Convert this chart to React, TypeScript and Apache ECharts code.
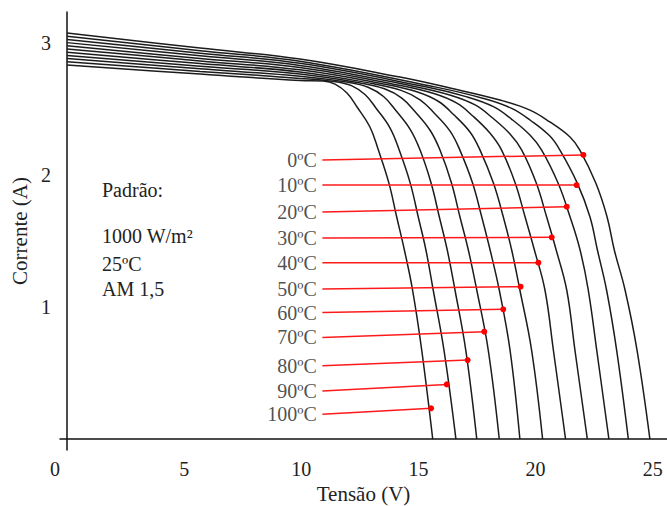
import React, { useEffect, useRef } from "react";
import * as echarts from "echarts";

// Temperature labels (curves ordered 0ºC ... 100ºC)
const temperatures = ["0ºC", "10ºC", "20ºC", "30ºC", "40ºC", "50ºC", "60ºC", "70ºC", "80ºC", "90ºC", "100ºC"];

// I-V curves: [Tensão (V), Corrente (A)]
const curve0 = [[0, 3.076], [5.68, 2.962], [9.94, 2.879], [14.21, 2.742], [16.35, 2.659], [18.48, 2.568], [19.76, 2.492], [20.61, 2.402], [21.47, 2.288], [21.89, 2.189], [22.57, 1.939], [23.05, 1.684], [23.36, 1.432], [23.82, 1.129], [24.33, 0.674], [24.88, 0]];
const curve10 = [[0, 3.052], [5.68, 2.942], [9.94, 2.862], [15.8, 2.664], [17.78, 2.58], [18.98, 2.505], [19.79, 2.413], [20.61, 2.295], [21.04, 2.189], [21.78, 1.939], [22.32, 1.684], [22.64, 1.432], [23.03, 1.129], [23.46, 0.674], [23.96, 0]];
const curve20 = [[0, 3.027], [5.68, 2.923], [9.94, 2.846], [15.26, 2.67], [17.07, 2.592], [18.2, 2.518], [18.97, 2.424], [19.76, 2.303], [20.26, 2.189], [20.96, 1.939], [21.47, 1.684], [21.9, 1.432], [22.25, 1.129], [22.61, 0.674], [23.13, 0]];
const curve30 = [[0, 3.003], [5.68, 2.903], [9.94, 2.83], [14.72, 2.675], [16.37, 2.605], [17.42, 2.531], [18.14, 2.436], [18.91, 2.311], [19.41, 2.189], [20.03, 1.939], [20.47, 1.684], [20.88, 1.432], [21.33, 1.129], [21.68, 0.674], [22.21, 0]];
const curve40 = [[0, 2.979], [5.68, 2.883], [9.94, 2.814], [14.18, 2.68], [15.66, 2.617], [16.64, 2.544], [17.32, 2.447], [18.05, 2.318], [18.55, 2.189], [19.13, 1.939], [19.55, 1.684], [19.95, 1.432], [20.4, 1.129], [20.76, 0.674], [21.28, 0]];
const curve50 = [[0, 2.955], [5.68, 2.864], [9.94, 2.797], [13.64, 2.686], [14.96, 2.629], [15.86, 2.557], [16.5, 2.458], [17.2, 2.326], [17.63, 2.189], [18.2, 1.939], [18.62, 1.684], [18.98, 1.432], [19.33, 1.129], [19.83, 0.674], [20.3, 0]];
const curve60 = [[0, 2.93], [5.68, 2.844], [9.94, 2.781], [13.09, 2.691], [14.26, 2.641], [15.07, 2.57], [15.67, 2.47], [16.35, 2.333], [16.77, 2.189], [17.31, 1.939], [17.7, 1.684], [18.06, 1.432], [18.45, 1.129], [18.91, 0.674], [19.33, 0]];
const curve70 = [[0, 2.906], [5.68, 2.824], [9.94, 2.765], [12.55, 2.696], [13.55, 2.653], [14.29, 2.583], [14.85, 2.481], [15.49, 2.341], [15.92, 2.189], [16.41, 1.939], [16.77, 1.684], [17.13, 1.432], [17.49, 1.129], [17.98, 0.674], [18.45, 0]];
const curve80 = [[0, 2.882], [5.68, 2.805], [9.94, 2.748], [12.01, 2.702], [12.85, 2.665], [13.51, 2.595], [14.02, 2.492], [14.64, 2.348], [15.07, 2.189], [15.54, 1.939], [15.89, 1.684], [16.23, 1.432], [16.56, 1.129], [17.02, 0.674], [17.49, 0]];
const curve90 = [[0, 2.858], [5.68, 2.785], [9.94, 2.732], [11.47, 2.707], [12.14, 2.677], [12.73, 2.608], [13.2, 2.504], [13.79, 2.356], [14.18, 2.189], [14.65, 1.939], [14.99, 1.684], [15.32, 1.432], [15.63, 1.129], [16.09, 0.674], [16.6, 0]];
const curve100 = [[0, 2.833], [5.68, 2.765], [9.94, 2.716], [10.93, 2.712], [11.44, 2.689], [11.95, 2.621], [12.38, 2.515], [12.93, 2.364], [13.29, 2.189], [13.74, 1.939], [14.07, 1.684], [14.4, 1.432], [14.75, 1.129], [15.14, 0.674], [15.61, 0]];
const curves = [curve0, curve10, curve20, curve30, curve40, curve50, curve60, curve70, curve80, curve90, curve100];

// Red pointer lines: from label anchor to a dot on each curve
const labelVoltage = 10.9;
const labelCurrent = [2.114, 1.924, 1.72, 1.523, 1.336, 1.136, 0.958, 0.77, 0.555, 0.364, 0.187];
const dotVoltage = [22.04, 21.75, 21.33, 20.69, 20.12, 19.36, 18.62, 17.81, 17.1, 16.21, 15.54];
const dotCurrent = [2.152, 1.924, 1.76, 1.528, 1.336, 1.154, 0.983, 0.813, 0.598, 0.414, 0.233];

// Axis tick labels
const xTicks = [0, 5, 10, 15, 20, 25];
const yTicks = [1, 2, 3];

// Standard conditions text
const standardLines = ["Padrão:", "1000 W/m²", "25ºC", "AM 1,5"];

const FONT = "'Liberation Serif', 'Times New Roman', serif";
const TEXT = "#222";

export default function App() {
  const ref = useRef<HTMLDivElement>(null);

  useEffect(() => {
    if (!ref.current) return;
    const chart = echarts.init(ref.current, undefined, { renderer: "svg" });

    const curveSeries = curves.map((c, i) => ({
      type: "line",
      name: temperatures[i],
      data: c,
      showSymbol: false,
      smooth: 0.4,
      silent: true,
      z: 2,
      lineStyle: { color: "#1c1c1c", width: 1.5 },
    }));

    const pointerSeries = temperatures.map((t, i) => ({
      type: "line",
      name: "pointer " + t,
      z: 5,
      silent: true,
      data: [
        { value: [labelVoltage, labelCurrent[i]], symbol: "none" },
        { value: [dotVoltage[i], dotCurrent[i]], symbol: "circle", symbolSize: 6 },
      ],
      lineStyle: { color: "#ff1a1a", width: 1.5 },
      itemStyle: { color: "#ff0000" },
    }));

    const labelSeries = {
      type: "scatter",
      name: "labels",
      silent: true,
      z: 6,
      symbolSize: 1,
      itemStyle: { color: "rgba(0,0,0,0)" },
      data: temperatures.map((t, i) => ({ value: [labelVoltage, labelCurrent[i]], name: t })),
      label: {
        show: true,
        position: "left",
        distance: 5,
        formatter: "{b}",
        fontFamily: FONT,
        fontSize: 20,
        color: TEXT,
      },
    };

    const tops = [180, 226, 254, 279];
    const graphic = standardLines.map((s, i) => ({
      type: "text",
      left: 102,
      top: tops[i],
      silent: true,
      style: { text: s, font: `20px ${FONT}`, fill: TEXT },
    }));

    chart.setOption({
      animation: false,
      backgroundColor: "#ffffff",
      grid: { left: 60, right: 0, top: 12, bottom: 56, containLabel: false, outerBoundsMode: "none" },
      xAxis: {
        type: "value",
        min: -0.3,
        max: 25.61,
        name: "Tensão (V)",
        nameLocation: "middle",
        nameGap: 33,
        nameTextStyle: { fontFamily: FONT, fontSize: 21, color: TEXT },
        axisLine: { onZero: true, lineStyle: { color: "#111", width: 1.5 } },
        axisTick: { show: false },
        splitLine: { show: false },
        axisLabel: {
          customValues: xTicks,
          margin: 9,
          fontFamily: FONT,
          fontSize: 20,
          color: TEXT,
          formatter: (v: number) => (v === 0 ? "{z|0}" : String(v)),
          rich: { z: { fontFamily: FONT, fontSize: 20, color: TEXT, padding: [0, 24, 0, 0] } },
        },
      },
      yAxis: {
        type: "value",
        min: -0.083,
        max: 3.235,
        name: "Corrente (A)",
        nameLocation: "middle",
        nameRotate: 90,
        nameGap: 29,
        nameTextStyle: { fontFamily: FONT, fontSize: 21, color: TEXT },
        axisLine: { onZero: true, lineStyle: { color: "#111", width: 1.5 } },
        axisTick: { show: false },
        splitLine: { show: false },
        axisLabel: {
          customValues: yTicks,
          margin: 9,
          fontFamily: FONT,
          fontSize: 20,
          color: TEXT,
          formatter: (v: number) => String(v),
        },
      },
      graphic,
      series: [...curveSeries, ...pointerSeries, labelSeries],
    });

    return () => chart.dispose();
  }, []);

  return (
    <div
      ref={ref}
      style={{ position: "fixed", left: 0, top: 0, width: 667, height: 506, background: "#fff" }}
    />
  );
}
